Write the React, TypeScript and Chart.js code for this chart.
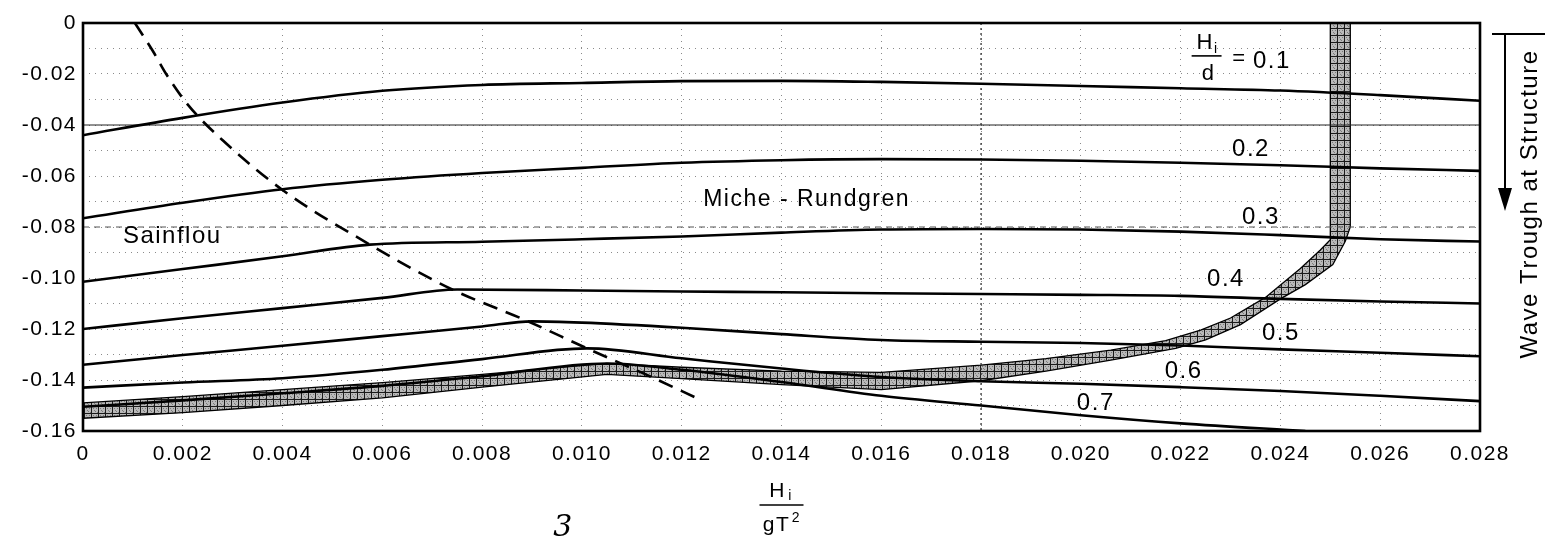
import React, { useEffect, useRef } from 'react';
import { Chart, registerables } from 'chart.js';

Chart.register(...registerables);

// ---- data ----
const ratioLabels = ['0.1', '0.2', '0.3', '0.4', '0.5', '0.6', '0.7'];
const regionNames = ['Sainflou', 'Miche - Rundgren'];
const rightTitle = 'Wave Trough at Structure';

const c01X = [0, 0.002, 0.004, 0.006, 0.008, 0.010, 0.012, 0.014, 0.016, 0.018, 0.020, 0.022, 0.024, 0.026, 0.028];
const c01Y = [-0.044, -0.0372, -0.0312, -0.0266, -0.0243, -0.0235, -0.0228, -0.0227, -0.0231, -0.0238, -0.0247, -0.0256, -0.0265, -0.0283, -0.0305];

const c02X = [0, 0.002, 0.004, 0.006, 0.008, 0.010, 0.012, 0.014, 0.016, 0.018, 0.020, 0.022, 0.024, 0.026, 0.028];
const c02Y = [-0.0766, -0.0705, -0.0652, -0.0615, -0.0588, -0.0568, -0.0548, -0.0538, -0.0534, -0.0535, -0.054, -0.0548, -0.0558, -0.057, -0.058];

const c03X = [0, 0.002, 0.004, 0.00575, 0.008, 0.010, 0.012, 0.014, 0.016, 0.018, 0.020, 0.022, 0.024, 0.026, 0.028];
const c03Y = [-0.1015, -0.0965, -0.0915, -0.0869, -0.0858, -0.0848, -0.0837, -0.0822, -0.081, -0.0808, -0.081, -0.0818, -0.0832, -0.0848, -0.0857];

const c04X = [0, 0.002, 0.004, 0.006, 0.0075, 0.010, 0.012, 0.014, 0.016, 0.018, 0.020, 0.022, 0.024, 0.026, 0.028];
const c04Y = [-0.120, -0.1158, -0.1118, -0.1078, -0.1045, -0.1049, -0.1053, -0.1056, -0.106, -0.1063, -0.1066, -0.107, -0.1082, -0.1092, -0.110];

const c05X = [0, 0.002, 0.004, 0.006, 0.008, 0.009, 0.010, 0.012, 0.014, 0.016, 0.018, 0.020, 0.022, 0.024, 0.026, 0.028];
const c05Y = [-0.134, -0.1302, -0.1266, -0.1228, -0.119, -0.117, -0.1175, -0.1195, -0.122, -0.1243, -0.125, -0.1255, -0.1265, -0.128, -0.1293, -0.1307];

const c06X = [0, 0.002, 0.004, 0.006, 0.008, 0.0101, 0.012, 0.014, 0.016, 0.018, 0.020, 0.022, 0.024, 0.026, 0.028];
const c06Y = [-0.143, -0.141, -0.1393, -0.136, -0.1318, -0.1276, -0.1315, -0.1355, -0.1388, -0.1405, -0.1415, -0.1428, -0.1443, -0.1462, -0.1483];

const c07X = [0, 0.002, 0.004, 0.006, 0.008, 0.0105, 0.012, 0.014, 0.016, 0.018, 0.020, 0.022, 0.0245];
const c07Y = [-0.1505, -0.148, -0.1452, -0.1423, -0.1385, -0.1335, -0.136, -0.1408, -0.1462, -0.150, -0.1538, -0.157, -0.160];

// Sainflou / Miche-Rundgren boundary (dashed)
const boundX = [0.00104, 0.0014, 0.00168, 0.0021, 0.0028, 0.004, 0.00575, 0.0074, 0.0089, 0.0101, 0.0113, 0.0124];
const boundY = [0, -0.011, -0.0204, -0.032, -0.046, -0.0655, -0.0869, -0.1045, -0.1168, -0.1276, -0.138, -0.148];

// hatched limit band
const bandUpperX = [0, 0.002, 0.004, 0.006, 0.008, 0.0105, 0.012, 0.014, 0.016, 0.018, 0.0193, 0.0206, 0.0217, 0.0224, 0.023, 0.0237, 0.0244, 0.0248, 0.0250, 0.0250];
const bandUpperY = [-0.149, -0.1465, -0.1438, -0.141, -0.1378, -0.1335, -0.135, -0.1365, -0.137, -0.1342, -0.1316, -0.1283, -0.1246, -0.1204, -0.1157, -0.1076, -0.0963, -0.089, -0.085, 0];
const bandLowerX = [0, 0.002, 0.004, 0.006, 0.008, 0.0105, 0.012, 0.014, 0.016, 0.018, 0.0193, 0.0206, 0.0219, 0.0225, 0.0232, 0.0240, 0.0245, 0.02505, 0.0253, 0.0254, 0.0254];
const bandLowerY = [-0.155, -0.1528, -0.150, -0.147, -0.1428, -0.1378, -0.1395, -0.1418, -0.1438, -0.1403, -0.1365, -0.1322, -0.1276, -0.1243, -0.1183, -0.1082, -0.1026, -0.0947, -0.0856, -0.080, 0];

// reference lines drawn on the graph paper
const thinLineY = [-0.04];
const dashLineY = [-0.08];
const dotLineX = [0.018];

const FONT = '"Liberation Sans", Arial, Helvetica, sans-serif';

const pts = (xs: number[], ys: number[]) => xs.map((x, i) => ({ x, y: ys[i] }));

function makePattern(ctx: CanvasRenderingContext2D) {
  const c = document.createElement('canvas');
  c.width = 7;
  c.height = 7;
  const g = c.getContext('2d')!;
  g.fillStyle = '#b9b9b9';
  g.fillRect(0, 0, 7, 7);
  g.fillStyle = '#7a7a7a';
  [[2, 2], [4, 5], [5, 2], [3, 4], [6, 6]].forEach(([a, b]) => g.fillRect(a, b, 1, 1));
  g.fillStyle = '#1a1a1a';
  g.fillRect(0, 0, 7, 1);
  g.fillRect(0, 0, 1, 7);
  return ctx.createPattern(c, 'repeat');
}

const annotate = {
  id: 'annotate',
  beforeDraw(chart: any) {
    (chart.ctx as any).letterSpacing = '1.5px';
  },
  afterDatasetsDraw(chart: any) {
    const { ctx, chartArea: a, scales } = chart;
    const x = scales.x;
    const y = scales.y;
    const px = (v: number) => x.getPixelForValue(v);
    const py = (v: number) => y.getPixelForValue(v);
    ctx.save();
    (ctx as any).letterSpacing = '1.5px';
    // frame
    ctx.strokeStyle = '#000';
    ctx.lineWidth = 2.6;
    ctx.strokeRect(a.left, a.top, a.right - a.left, a.bottom - a.top);

    ctx.fillStyle = '#000';
    ctx.textBaseline = 'middle';
    ctx.textAlign = 'left';

    // region names
    ctx.font = `24px ${FONT}`;
    ctx.fillText(regionNames[0], px(0.0008), py(-0.0835));
    ctx.font = `23px ${FONT}`;
    ctx.fillText(regionNames[1], px(0.01243), py(-0.0694));

    // ratio labels
    ctx.font = `24px ${FONT}`;
    const pos: [number, number][] = [
      [0.02345, -0.0152],
      [0.02303, -0.0497],
      [0.02323, -0.0763],
      [0.02253, -0.1005],
      [0.02363, -0.1218],
      [0.02168, -0.1367],
      [0.01992, -0.1491],
    ];
    ratioLabels.forEach((t, i) => ctx.fillText(t, px(pos[i][0]), py(pos[i][1])));

    // H_i / d  =
    ctx.font = `22px ${FONT}`;
    ctx.fillText('H', px(0.02232), py(-0.0078));
    ctx.font = `14px ${FONT}`;
    ctx.fillText('i', px(0.02267), py(-0.0104));
    ctx.font = `22px ${FONT}`;
    ctx.textAlign = 'center';
    ctx.fillText('d', px(0.02256), py(-0.0198));
    ctx.fillText('=', px(0.02318), py(-0.0142));
    ctx.lineWidth = 1.6;
    ctx.beginPath();
    ctx.moveTo(px(0.02222), py(-0.0129));
    ctx.lineTo(px(0.02282), py(-0.0129));
    ctx.stroke();
    ctx.restore();
  },
  afterDraw(chart: any) {
    const { ctx, chartArea: a } = chart;
    ctx.save();
    (ctx as any).letterSpacing = '1.5px';
    ctx.fillStyle = '#000';
    ctx.strokeStyle = '#000';
    ctx.textBaseline = 'middle';
    // x-axis title  H_i / gT^2
    const cx = (a.left + a.right) / 2;
    ctx.font = `21px ${FONT}`;
    ctx.textAlign = 'center';
    ctx.fillText('H', cx - 4, a.bottom + 60);
    ctx.font = `14px ${FONT}`;
    ctx.fillText('i', cx + 9, a.bottom + 65);
    ctx.lineWidth = 1.6;
    ctx.beginPath();
    ctx.moveTo(cx - 22, a.bottom + 74);
    ctx.lineTo(cx + 22, a.bottom + 74);
    ctx.stroke();
    ctx.font = `21px ${FONT}`;
    ctx.fillText('gT', cx - 5, a.bottom + 94);
    ctx.font = `14px ${FONT}`;
    ctx.fillText('2', cx + 15, a.bottom + 87);

    // stray scan mark
    ctx.font = `italic 30px "DejaVu Serif", serif`;
    ctx.fillText('3', cx - 218, a.bottom + 97);

    // right title with arrow
    const ax = a.right + 25;
    ctx.lineWidth = 2;
    ctx.beginPath();
    ctx.moveTo(a.right + 12, a.top + 11);
    ctx.lineTo(a.right + 65, a.top + 11);
    ctx.moveTo(ax, a.top + 11);
    ctx.lineTo(ax, a.top + 170);
    ctx.stroke();
    ctx.beginPath();
    ctx.moveTo(ax - 7, a.top + 165);
    ctx.lineTo(ax + 7, a.top + 165);
    ctx.lineTo(ax, a.top + 188);
    ctx.closePath();
    ctx.fill();

    ctx.translate(a.right + 50, a.top + 181);
    ctx.rotate(-Math.PI / 2);
    ctx.font = `24px ${FONT}`;
    ctx.textAlign = 'center';
    ctx.fillText(rightTitle, 0, 0);
    ctx.restore();
  },
};

export default function App() {
  const ref = useRef<HTMLCanvasElement>(null);

  useEffect(() => {
    const canvas = ref.current!;
    const ctx = canvas.getContext('2d')!;
    const pattern = makePattern(ctx);

    const curveSets = [
      [c01X, c01Y], [c02X, c02Y], [c03X, c03Y], [c04X, c04Y], [c05X, c05Y], [c06X, c06Y], [c07X, c07Y],
    ].map(([xs, ys], i) => ({
      label: `Hi/d = ${ratioLabels[i]}`,
      data: pts(xs, ys),
      borderColor: '#000',
      borderWidth: 2.6,
      pointRadius: 0,
      tension: 0.4,
      cubicInterpolationMode: 'monotone' as const,
      fill: false,
    }));

    const bandPoly = [
      ...pts(bandUpperX, bandUpperY),
      ...pts(bandLowerX, bandLowerY).reverse(),
    ];

    const chart = new Chart(ctx, {
      type: 'line',
      data: {
        datasets: [
          ...curveSets,
          {
            label: 'Sainflou / Miche-Rundgren boundary',
            data: pts(boundX, boundY),
            borderColor: '#000',
            borderWidth: 2.6,
            borderDash: [15, 9],
            pointRadius: 0,
            tension: 0.3,
            cubicInterpolationMode: 'monotone',
            fill: false,
          },
          {
            label: 'thin',
            data: thinLineY.flatMap((v) => [{ x: 0, y: v }, { x: 0.028, y: v }]),
            borderColor: '#222',
            borderWidth: 1,
            pointRadius: 0,
            fill: false,
          },
          {
            label: 'dash',
            data: dashLineY.flatMap((v) => [{ x: 0, y: v }, { x: 0.028, y: v }]),
            borderColor: '#555',
            borderWidth: 1,
            borderDash: [6, 5],
            pointRadius: 0,
            fill: false,
          },
          {
            label: 'dot',
            data: dotLineX.flatMap((v) => [{ x: v, y: 0 }, { x: v, y: -0.16 }]),
            borderColor: '#333',
            borderWidth: 1.3,
            borderDash: [2, 3],
            pointRadius: 0,
            fill: false,
          },
          {
            label: 'band',
            data: bandPoly,
            borderColor: '#000',
            borderWidth: 1.3,
            backgroundColor: pattern as any,
            pointRadius: 0,
            tension: 0,
            fill: 'shape' as any,
          },
        ],
      },
      options: {
        responsive: false,
        animation: false,
        layout: { padding: { top: 23, right: 73, left: 0, bottom: 0 } },
        plugins: { legend: { display: false }, tooltip: { enabled: false } },
        scales: {
          x: {
            type: 'linear',
            min: 0,
            max: 0.028,
            afterFit: (s: any) => { s.height = 109; },
            ticks: {
              stepSize: 0.002,
              autoSkip: false,
              maxRotation: 0,
              padding: 11,
              color: '#000',
              font: { family: FONT, size: 21 },
              callback: (v: any) => (Math.abs(Number(v)) < 1e-9 ? '0' : Number(v).toFixed(3)),
            },
            grid: { color: '#8a8a8a', lineWidth: 1, drawTicks: false },
            border: { display: false, dash: [1, 5] },
          },
          y: {
            type: 'linear',
            min: -0.16,
            max: 0,
            afterFit: (s: any) => { s.width = 83; },
            ticks: {
              stepSize: 0.01,
              autoSkip: false,
              padding: 6,
              color: '#000',
              font: { family: FONT, size: 21 },
              callback: (v: any) => {
                const k = Math.round(Number(v) * 100);
                if (k % 2 !== 0) return '';
                return k === 0 ? '0' : (k / 100).toFixed(2);
              },
            },
            grid: { color: '#8a8a8a', lineWidth: 1, drawTicks: false },
            border: { display: false, dash: [1, 5] },
          },
        },
      },
      plugins: [annotate],
    });

    return () => chart.destroy();
  }, []);

  return (
    <div style={{ position: 'absolute', left: 0, top: 0, width: 1553, height: 540, background: '#fff' }}>
      <canvas ref={ref} width={1553} height={540} style={{ display: 'block' }} />
    </div>
  );
}
